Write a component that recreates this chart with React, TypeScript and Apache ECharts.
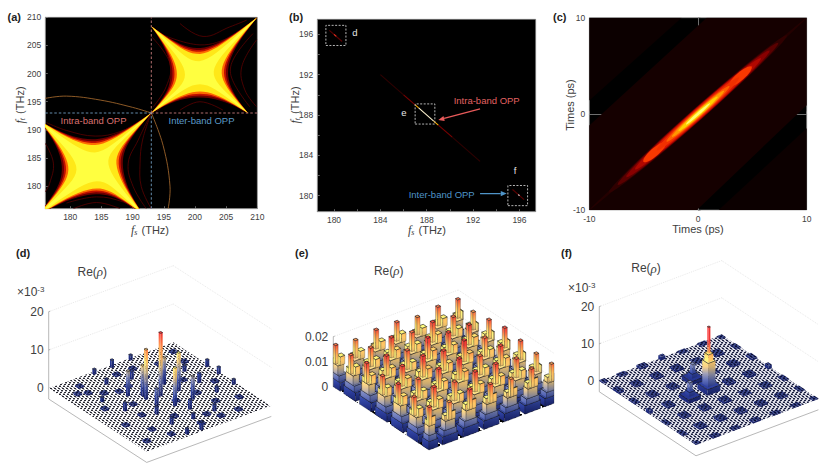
// Six-panel figure: three spectra/time heat maps and three density-matrix surfaces

import { useEffect, useRef } from 'react';
import * as echarts from 'echarts';

const FONT = '"Liberation Sans", Arial, sans-serif';
const INK = '#404040';

// ---- (a) joint spectrum, star tips and side waists read in THz
const A_TICKS = [180, 185, 190, 195, 200, 205, 210];
const lowerTips = [[193, 193], [191.7, 175], [174.5, 174.5], [175, 191.7]];
const lowerWaists = [[187.4, 184.6], [184.2, 179.6], [179.7, 182.9], [184, 187.3]];
const lowerCentre = [183.6, 183.5];
const upperTips = [[193, 193], [193, 208.4], [210, 210], [208.5, 193]];
const upperWaists = [[197.1, 199.9], [200.8, 203.5], [204.3, 200.6], [200.8, 196.8]];
const upperCentre = [200.7, 200.2];
const bandsA: [number, string][] = [[1.05, '#6a0000'], [0.7, '#c01000'], [0.38, '#ff6a00'], [0, '#ffe818'], [-1.3, '#ffff40']];
const fringesA = [
    [[176.2, 191.3], [179.4, 189.9], [184, 188.9], [188, 189.7], [191.2, 191.6], [193, 193]],
    [[193, 193], [190.9, 188.2], [189.3, 184.1], [190.1, 179.9], [192.2, 176]],
    [[193, 193], [191.6, 188.2], [191.2, 184.1], [191.4, 179.9], [193, 176]],
    [[179.4, 177], [184.2, 178.1], [188.5, 177.2], [190.1, 176]],
    [[180.5, 176], [184.2, 177.1], [188, 176]],
    [[176, 187.6], [177.3, 184.1], [176.7, 180.5], [176, 179]],
    [[194.4, 207.1], [200.8, 205.1], [206.1, 206.6], [208.5, 208]],
    [[197.6, 208.9], [201.3, 206.6], [205.6, 208.3], [208.3, 209.5]],
    [[209.3, 207.1], [206.1, 202.4], [205.9, 199.2], [208.8, 194.1]],
    [[209.9, 206], [207.5, 201.2], [208, 197.1], [209.9, 194.1]],
    [[193.8, 193.2], [196.5, 195.3], [200.8, 195.9], [205.6, 194.7], [208, 193.2]],
    [[197.6, 193.5], [200.8, 195], [204.5, 193.5]],
    [[193, 206.6], [196, 201.8], [195.4, 197.7], [193.3, 194.1]],
];
const arcsA = [
    [[176, 195.6], [179.4, 196], [184.8, 195.3], [190, 194], [193, 193]],
    [[193, 193], [194.9, 187.2], [196, 180], [195.7, 176]],
];
const crossA = [193, 193];

// ---- (b) trace along the anti-diagonal, [x0, y0, x1, y1, colour]
const B_TICKS = [180, 184, 188, 192, 196];
const B_MINOR = [180, 182, 184, 186, 188, 190, 192, 194, 196];
const traceB: [number, number, number, number, string][] = [
    [179.6, 196.4, 180.7, 195.3, '#5a0000'],
    [180, 196, 180.2, 195.8, '#e03020'],
    [184, 192, 186, 190, '#2e0000'],
    [186, 190, 187, 189, '#7a0000'],
    [187, 189, 187.3, 188.7, '#ffb000'],
    [187.3, 188.7, 188.6, 187.4, '#fff4d0'],
    [188.6, 187.4, 189, 187, '#ffb000'],
    [189, 187, 190.2, 185.8, '#7a0000'],
    [190.2, 185.8, 192.6, 183.4, '#2e0000'],
    [195.4, 180.6, 196.4, 179.6, '#5a0000'],
    [195.9, 180.1, 196, 180, '#ffffff'],
];
const boxesB = [[179.3, 194.9, 181.03, 196.9], [187, 187.1, 188.7, 189.1], [195, 179, 196.7, 181]];
const arrowsB: [number, number, number, number, string][] = [
    [192.6, 188.6, 189, 187.5, '#e85a5a'],
    [192.6, 180.2, 194.9, 180.2, '#4f94c8'],
];

// ---- (c) correlation in time, lobes on the diagonal: [centre, half length, half width, colour]
const C_TICKS = [-10, 0, 10];
const bandC = [[-10, -1.2], [0.8, 10], [10, 10], [10, 0.9], [-0.1, -10], [-10, -10]];
const cornersC = [[[-10, 1.4], [-1.5, 10], [-10, 10]], [[10, -1.5], [1.9, -10], [10, -10]]];
const lobesC: [number, number, number, string][] = [
    [0, 10, 0.16, '#240000'],
    [0, 8.2, 0.44, '#300000'],
    [0, 7.4, 0.42, '#5a0000'],
    [0, 6.6, 0.4, '#880000'],
    [0, 5.8, 0.38, '#b00800'],
    [0, 5, 0.35, '#d81800'],
    [3.9, 1, 0.28, '#f83800'],
    [-4, 1, 0.28, '#f83800'],
    [0, 3.8, 0.3, '#f03000'],
    [0, 2.9, 0.25, '#ff6000'],
    [0, 2.4, 0.2, '#ff9800'],
    [0, 1.8, 0.16, '#ffd000'],
    [0, 1.1, 0.1, '#ffff70'],
];

// ---- surfaces, heights on the 7 x 7 lattice and the tall peaks [u, v, height]
const LATTICE = [0.01, 0.17, 0.335, 0.5, 0.665, 0.83, 0.99];
const peaksD = [
    [0.514, 0.489, 16.5], [0.413, 0.468, 13], [0.646, 0.505, 10], [0.422, 0.422, 8], [0.347, 0.368, 6.5],
    [0.624, 0.384, 7], [0.509, 0.642, 10], [0.652, 0.641, 6], [0.415, 0.574, 4.5],
    [0.489, 0.024, 2], [0.347, 0.025, 1.3], [0.645, 0.016, 1.3], [0.984, 0.367, 1.8], [0.985, 0.483, 1.8],
    [0.98, 0.643, 1.3], [0.498, 0.214, 2.2], [0.817, 0.498, 2.5], [0.214, 0.507, 2.2], [0.455, 0.98, 2],
    [0.348, 0.97, 1.5], [0.347, 0.814, 1.8], [0.349, 0.658, 2], [0.559, 0.731, 2.5], [0.66, 0.33, 2],
    [0.83, 0.33, 1.6], [0.67, 0.84, 1.8], [0.5, 0.84, 1.4], [0.83, 0.66, 1.5], [0.17, 0.33, 1.2], [0.33, 0.17, 1.4],
];
const spotsD = [
    [0.1, 0.17], [0.17, 0.1], [0.24, 0.26], [0.33, 0.3], [0.45, 0.12], [0.58, 0.12], [0.75, 0.17], [0.9, 0.24],
    [0.75, 0.42], [0.9, 0.55], [0.72, 0.6], [0.6, 0.85], [0.42, 0.75], [0.26, 0.62], [0.12, 0.42], [0.1, 0.66],
    [0.2, 0.8], [0.26, 0.92], [0.5, 0.92], [0.75, 0.75], [0.9, 0.8], [0.66, 0.92], [0.16, 0.2], [0.58, 0.25],
    [0.3, 0.48], [0.42, 0.28], [0.8, 0.92], [0.92, 0.1], [0.08, 0.9], [0.55, 0.6],
];
const heightsE = [
    [0.017, 0.017, 0.018, 0.017, 0.018, 0.017, 0.017],
    [0.016, 0.017, 0.018, 0.018, 0.017, 0.018, 0.016],
    [0.017, 0.018, 0.017, 0.019, 0.018, 0.017, 0.018],
    [0.017, 0.017, 0.019, 0.018, 0.019, 0.018, 0.017],
    [0.016, 0.018, 0.018, 0.019, 0.017, 0.018, 0.016],
    [0.017, 0.017, 0.018, 0.017, 0.018, 0.017, 0.017],
    [0.017, 0.016, 0.017, 0.018, 0.017, 0.016, 0.016],
];
// node shape: [du, dv, radius, z0, z1] as fractions of the node height
const tiersE = [
    [0, 0, 0.062, 0, 0.2], [0, 0, 0.05, 0.2, 0.34], [0, 0, 0.038, 0.34, 0.56],
    [-0.018, -0.018, 0.016, 0.56, 0.68], [0.024, 0.024, 0.018, 0.56, 0.76], [0, 0, 0.012, 0.56, 1],
];
const plateausF = [
    [0.5, 0.9, 0.5, 1.5, 0.3, 0.4, 0.3],
    [0.4, 0.7, 0.7, 0.8, 0.7, 0.8, 0.5],
    [0.9, 0.9, 0.8, 0, 0.8, 0.9, 0.4],
    [1.6, 0.9, 0, 0, 0.9, 0.7, 0.8],
    [0.3, 0.5, 0.5, 0.9, 0.4, 0.6, 0.4],
    [0.5, 0.9, 0.9, 0.9, 0.5, 0.6, 0.4],
    [0.3, 0.4, 0.7, 1.6, 0.4, 0.3, 0.3],
];
const towersF = [
    [0.5, 0.5, 0.052, 0, 1.6], [0.5, 0.5, 0.03, 1.6, 8], [0.5, 0.5, 0.02, 8, 10], [0.5, 0.5, 0.007, 10, 17],
    [0.336, 0.512, 0.05, 0, 1], [0.336, 0.512, 0.022, 1, 2.2], [0.336, 0.512, 0.012, 2.2, 4.5],
    [0.494, 0.34, 0.05, 0, 1], [0.494, 0.34, 0.022, 1, 2.2], [0.494, 0.34, 0.012, 2.2, 4.5],
];
const surfaceStops = ['#141c5a', '#2a3a86', '#6a7298', '#c4a468', '#f8c060', '#f58a45', '#e03030'];

type View = { left: number; width: number; top: number; bottom: number; originY: number; ax: number; ay: number; bx: number; by: number; pxPerZ: number; zTicks: number[]; zBase: number; zTop: number; zColor: number };

const viewD: View = { left: 48.7, width: 228, top: 258, bottom: 468, originY: 388.3, ax: 124.6, ay: -46, bx: 98, by: 63.4, pxPerZ: 3.83, zTicks: [0, 10, 20], zBase: -2.8, zTop: 20, zColor: 15 };
const viewE: View = { left: 333.3, width: 226, top: 258, bottom: 468, originY: 386.7, ax: 125, ay: -46.7, bx: 95.7, by: 63.3, pxPerZ: 2500, zTicks: [0, 0.01, 0.02], zBase: 0, zTop: 0.02, zColor: 0.0175 };
const viewF: View = { left: 599.3, width: 224, top: 250, bottom: 468, originY: 381, ax: 122.4, ay: -46, bx: 96.7, by: 64, pxPerZ: 3.72, zTicks: [0, 10, 20], zBase: -2.9, zTop: 20, zColor: 13 };

const project = (view: View, u: number, v: number, z: number) => [
    view.ax * u + view.bx * v,
    -(view.ay * u + view.by * v) / view.pxPerZ + z,
];

const clamp = (a: number) => Math.min(1, Math.max(0, a));

// Columns [u, v, radius, z0, z1, keyU, keyV], far ones first
const byDepth = (cols: number[][]) => cols.slice().sort((a, b) => (a[6] - a[5]) - (b[6] - b[5]));

const lowD = byDepth(spotsD.map(([u, v]) => [u, v, 0.02, 0, 0.45, u, v]));
const tallD = byDepth(peaksD.map(([u, v, h]) => [u, v, 0.009, 0, h, u, v]));
const tallE = byDepth(
    heightsE.flatMap((row, i) => row.flatMap((h, j) =>
        tiersE.map(([du, dv, r, z0, z1]) => [LATTICE[i] + du, LATTICE[j] + dv, r, z0 * h, z1 * h, LATTICE[i], LATTICE[j]])
    ))
);
const lowF = byDepth(plateausF.flatMap((row, i) => row.flatMap((h, j) => (h > 0 ? [[LATTICE[i], LATTICE[j], h > 1 ? 0.018 : 0.032, 0, h * 0.6, LATTICE[i], LATTICE[j]]] : []))));
const tallF = byDepth(towersF.map(([u, v, r, z0, z1]) => [u, v, r, z0, z1, u, v]));

// The wire mesh is finer than a pixel in the picture, so it shows as a pixel-sized weave
const weave = (map: string[], colors: Record<string, string>, cell: number) => {
    const canvas = document.createElement('canvas');
    canvas.width = map[0].length * cell;
    canvas.height = map.length * cell;
    const ctx = canvas.getContext('2d')!;
    map.forEach((row, y) => row.split('').forEach((ch, x) => {
        ctx.fillStyle = colors[ch];
        ctx.fillRect(x * cell, y * cell, cell, cell);
    }));
    return { image: canvas, repeat: 'repeat', imageWidth: canvas.width, imageHeight: canvas.height };
};

const WEAVE = ['KKWW', 'GWWG', 'KWWK', 'WGGW', 'WWKK', 'GWWG', 'WKKW', 'WGGW'];
const WEAVE_COARSE = ['KKWW', 'WKKW', 'WWKK', 'KWWK'];

const rampFill = (view: View, z0: number, z1: number, dark: number) => {
    const colorStops = [0, 0.25, 0.5, 0.75, 1].map((offset) => {
        const z = z1 + (z0 - z1) * offset;
        const c = echarts.color.lerp(Math.min(1, z / view.zColor), surfaceStops);
        return { offset, color: echarts.color.lift(c, dark) };
    });
    return new echarts.graphic.LinearGradient(0, 0, 0, 1, colorStops);
};

const surfaceSeries = (gridIndex: number, view: View, cols: number[][], edge: string, edgeWidth: number, topFill?: any) => ({
    type: 'custom',
    xAxisIndex: gridIndex,
    yAxisIndex: gridIndex,
    clip: false,
    silent: true,
    data: cols.map((_, i) => [i]),
    renderItem: (params: any, api: any) => {
        const [u, v, r, z0, z1] = cols[params.dataIndex];
        const u0 = clamp(u - r), u1 = clamp(u + r), v0 = clamp(v - r), v1 = clamp(v + r);
        const p = (a: number, b: number, z: number) => api.coord(project(view, a, b, z));
        return {
            type: 'group',
            children: [
                { type: 'polygon', shape: { points: [p(u0, v0, z0), p(u0, v1, z0), p(u0, v1, z1), p(u0, v0, z1)] }, style: { fill: rampFill(view, z0, z1, -0.3), stroke: edge, lineWidth: edgeWidth } },
                { type: 'polygon', shape: { points: [p(u0, v1, z0), p(u1, v1, z0), p(u1, v1, z1), p(u0, v1, z1)] }, style: { fill: rampFill(view, z0, z1, -0.06), stroke: edge, lineWidth: edgeWidth } },
                { type: 'polygon', shape: { points: [p(u0, v0, z1), p(u1, v0, z1), p(u1, v1, z1), p(u0, v1, z1)] }, style: topFill ? { fill: topFill } : { fill: rampFill(view, z1 * 0.9, z1, -0.35), stroke: '#111', lineWidth: 0.6 } },
            ],
        };
    },
});

// Back grid lines, box edges and floor sheet of one surface
const floorSeries = (gridIndex: number, view: View, sheet: any) => ({
    type: 'custom',
    xAxisIndex: gridIndex,
    yAxisIndex: gridIndex,
    clip: false,
    silent: true,
    data: [[0]],
    renderItem: (_: any, api: any) => {
        const p = (a: number, b: number, z: number) => api.coord(project(view, a, b, z));
        const children: any[] = [];
        const line = (q0: number[], q1: number[], stroke: string, lineWidth: number, lineDash?: number[]) =>
            children.push({ type: 'line', shape: { x1: q0[0], y1: q0[1], x2: q1[0], y2: q1[1] }, style: { stroke, lineWidth, lineDash } });
        view.zTicks.slice(1).forEach((z) => {
            line(p(0, 0, z), p(1, 0, z), '#d8d8d8', 0.6, [1, 1]);
            line(p(1, 0, z), p(1, 1, z), '#d8d8d8', 0.6, [1, 1]);
        });
        if (view.zBase < 0) {
            line(p(0, 0, view.zBase), p(0, 1, view.zBase), '#9a9a9a', 0.7);
            line(p(0, 1, view.zBase), p(1, 1, view.zBase), '#9a9a9a', 0.7);
        }
        line(p(0, 0, view.zBase), p(0, 0, view.zTop), '#9a9a9a', 0.7);
        view.zTicks.forEach((z) => line(p(0, 0, z), p(0.012, 0, z), '#9a9a9a', 0.7));
        children.push({ type: 'polygon', shape: { points: [p(0, 0, 0), p(1, 0, 0), p(1, 1, 0), p(0, 1, 0)] }, style: { fill: sheet } });
        return { type: 'group', children };
    },
});

const linesOf = (gridIndex: number, items: any[], build: (item: any, api: any) => any, clip = true) => ({
    type: 'custom',
    xAxisIndex: gridIndex,
    yAxisIndex: gridIndex,
    clip,
    silent: true,
    data: items.map((_, i) => [i]),
    renderItem: (params: any, api: any) => build(items[params.dataIndex], api),
});

const polygonEl = (pts: number[][], api: any, style: any) => ({
    type: 'polygon',
    shape: { points: pts.map((q) => api.coord(q)) },
    style,
});

const cubic = (a: number[], b: number[], c: number[], d: number[], q: number) => {
    const r = 1 - q;
    return [0, 1].map((n) => r * r * r * a[n] + 3 * r * r * q * b[n] + 3 * r * q * q * c[n] + q * q * q * d[n]);
};

// One star outline: each side runs tip, waist (moved out by `outset`), next tip, rounded only at the waist
const starOutline = (tips: number[][], waists: number[][], centre: number[], outset: number) => {
    const pts: number[][] = [];
    tips.forEach((t0, i) => {
        const t1 = tips[(i + 1) % tips.length];
        const mx = (t0[0] + t1[0]) / 2, my = (t0[1] + t1[1]) / 2;
        const span = Math.hypot(centre[0] - mx, centre[1] - my);
        const w = [waists[i][0] - ((centre[0] - mx) / span) * outset, waists[i][1] - ((centre[1] - my) / span) * outset];
        const side = Math.hypot(t1[0] - t0[0], t1[1] - t0[1]);
        const tx = ((t1[0] - t0[0]) / side) * 2, ty = ((t1[1] - t0[1]) / side) * 2;
        const aim = [(w[0] + centre[0]) / 2, (w[1] + centre[1]) / 2];
        const h0 = [t0[0] + (aim[0] - t0[0]) * 0.5, t0[1] + (aim[1] - t0[1]) * 0.5];
        const h1 = [t1[0] + (aim[0] - t1[0]) * 0.5, t1[1] + (aim[1] - t1[1]) * 0.5];
        for (let k = 0; k < 10; k++) pts.push(cubic(t0, h0, [w[0] - tx, w[1] - ty], w, k / 10));
        for (let k = 0; k < 10; k++) pts.push(cubic(w, [w[0] + tx, w[1] + ty], h1, t1, k / 10));
    });
    return pts;
};

const starEl = (tips: number[][], waists: number[][], centre: number[], api: any) => ({
    type: 'group',
    children: bandsA.map(([outset, fill]) => polygonEl(starOutline(tips, waists, centre, outset), api, { fill })),
});

const curveEl = (pts: number[][], api: any, stroke: string, lineWidth: number) => ({
    type: 'polyline',
    shape: { points: pts.map((q) => api.coord(q)), smooth: 0.4 },
    style: { stroke, lineWidth, fill: 'none' },
});

const segEl = (a: number[], b: number[], api: any, stroke: string, lineWidth: number, lineDash?: number[]) => {
    const q0 = api.coord(a);
    const q1 = api.coord(b);
    return { type: 'line', shape: { x1: q0[0], y1: q0[1], x2: q1[0], y2: q1[1] }, style: { stroke, lineWidth, lineDash } };
};

const arrowEl = ([x0, y0, x1, y1, color]: [number, number, number, number, string], api: any) => {
    const a = api.coord([x0, y0]);
    const b = api.coord([x1, y1]);
    const len = Math.hypot(b[0] - a[0], b[1] - a[1]);
    const ux = (b[0] - a[0]) / len, uy = (b[1] - a[1]) / len;
    const neck = [b[0] - ux * 6, b[1] - uy * 6];
    return {
        type: 'group',
        children: [
            { type: 'line', shape: { x1: a[0], y1: a[1], x2: neck[0], y2: neck[1] }, style: { stroke: color, lineWidth: 1.3 } },
            { type: 'polygon', shape: { points: [b, [neck[0] - uy * 2.6, neck[1] + ux * 2.6], [neck[0] + uy * 2.6, neck[1] - ux * 2.6]] }, style: { fill: color } },
        ],
    };
};

const lobeEl = ([centre, len, wid, color]: [number, number, number, string], api: any) => {
    const pts: number[][] = [];
    for (let k = 0; k < 32; k++) {
        const t = (k / 32) * Math.PI * 2;
        const along = len * Math.cos(t);
        const across = wid * Math.sin(t);
        pts.push([centre + along - across, centre + along + across]);
    }
    return polygonEl(pts, api, { fill: color });
};

const heatAxis = (gridIndex: number, min: number, max: number, labels: number[], ticks: number[]) => ({
    type: 'value',
    gridIndex,
    min,
    max,
    splitLine: { show: false },
    axisLine: { lineStyle: { color: '#8c8c8c', width: 0.8 } },
    axisTick: { inside: true, length: 2.5, customValues: ticks, lineStyle: { color: '#8c8c8c', width: 0.7 } },
    axisLabel: { customValues: labels, color: INK, fontSize: 8.5, fontFamily: FONT, margin: 4 },
});

const hiddenX = (gridIndex: number, view: View) => ({
    type: 'value', gridIndex, min: 0, max: view.width, show: false,
});

const zAxis = (gridIndex: number, view: View) => ({
    type: 'value',
    gridIndex,
    min: -(view.bottom - view.originY) / view.pxPerZ,
    max: (view.originY - view.top) / view.pxPerZ,
    splitLine: { show: false },
    axisLine: { show: false },
    axisTick: { show: false },
    axisLabel: { customValues: view.zTicks, color: INK, fontSize: 12, fontFamily: FONT, margin: 5 },
});

const viewGrid = (view: View) => ({ left: view.left, width: view.width, top: view.top, height: view.bottom - view.top });

const label = (x: number, y: number, text: string, style: any, align = 'left', rotation = 0) => ({
    type: 'text',
    x,
    y,
    rotation,
    silent: true,
    style: { text, fontFamily: FONT, fill: INK, align, verticalAlign: 'middle', ...style },
});

const nameRich = {
    i: { fontFamily: '"Liberation Serif", serif', fontStyle: 'italic', fontSize: 12, fill: INK, color: INK },
    s: { fontFamily: '"Liberation Serif", serif', fontStyle: 'italic', fontSize: 8, fill: INK, color: INK, padding: [5, 1, 0, 0] },
    t: { fontFamily: FONT, fontSize: 11, fill: INK, color: INK },
};
const rhoRich = {
    r: { fontFamily: FONT, fontSize: 12, color: INK },
    p: { fontFamily: '"Liberation Serif", serif', fontStyle: 'italic', fontSize: 13, color: INK },
};
const powerRich = {
    r: { fontFamily: FONT, fontSize: 12, color: INK },
    p: { fontFamily: FONT, fontSize: 8, color: INK, padding: [0, 0, 6, 0] },
};

const heatGrid = (left: number, top: number, width: number, height: number) => ({
    left, top, width, height, show: true, backgroundColor: '#000', borderWidth: 0.6, borderColor: '#8c8c8c',
});

export default function App() {
    const chartRef = useRef<HTMLDivElement>(null);

    useEffect(() => {
        if (!chartRef.current) return;
        document.body.style.margin = '0';
        const chart = echarts.init(chartRef.current, null, { renderer: 'svg' });

        const sheetD = weave(WEAVE, { K: '#2a2a32', W: '#ffffff', G: '#a8a8b0' }, 1);
        const sheetE = weave(WEAVE_COARSE, { K: '#000000', W: '#ffffff' }, 2);
        const sheetF = weave(WEAVE, { K: '#1c2040', W: '#e0e0ea', G: '#787c94' }, 1);
        const patch = weave(WEAVE, { K: '#0a0e34', W: '#3a4688', G: '#1c2458' }, 1);

        const option: any = {
            animation: false,
            backgroundColor: '#ffffff',
            grid: [
                heatGrid(45.3, 17.3, 212, 191.4),
                heatGrid(317.3, 19.3, 218.4, 192.4),
                heatGrid(589.3, 17.7, 217.4, 192.3),
                viewGrid(viewD),
                viewGrid(viewE),
                viewGrid(viewF),
            ],
            xAxis: [
                heatAxis(0, 176, 210, A_TICKS, A_TICKS),
                heatAxis(1, 178.56, 197.4, B_TICKS, B_MINOR),
                heatAxis(2, -10, 10, C_TICKS, C_TICKS),
                hiddenX(3, viewD),
                hiddenX(4, viewE),
                hiddenX(5, viewF),
            ],
            yAxis: [
                heatAxis(0, 176, 210, A_TICKS, A_TICKS),
                heatAxis(1, 178.4, 197.5, B_TICKS, B_MINOR),
                heatAxis(2, -10, 10, C_TICKS, C_TICKS),
                zAxis(3, viewD),
                zAxis(4, viewE),
                zAxis(5, viewF),
            ],
            series: [
                // (a)
                linesOf(0, fringesA, (pts, api) => curveEl(pts, api, '#5c0000', 0.8)),
                linesOf(0, [[lowerTips, lowerWaists, lowerCentre], [upperTips, upperWaists, upperCentre]], ([t, w, c], api) => starEl(t, w, c, api)),
                linesOf(0, arcsA, (pts, api) => curveEl(pts, api, '#b07030', 0.8)),
                linesOf(0, [crossA], ([cx, cy], api) => ({
                    type: 'group',
                    children: [
                        segEl([cx, cy], [cx, 210], api, '#e08a8a', 0.8, [2.5, 2]),
                        segEl([cx, 176], [cx, cy], api, '#7fb0d8', 0.8, [2.5, 2]),
                        segEl([cx, cy], [210, cy], api, '#e08a8a', 0.8, [2.5, 2]),
                        segEl([176, cy], [cx, cy], api, '#7fb0d8', 0.8, [2.5, 2]),
                    ],
                })),
                // (b)
                linesOf(1, traceB, ([x0, y0, x1, y1, c], api) => segEl([x0, y0], [x1, y1], api, c, 1.1)),
                linesOf(1, boxesB, ([x0, y0, x1, y1], api) => polygonEl([[x0, y0], [x1, y0], [x1, y1], [x0, y1]], api, { fill: 'none', stroke: '#c8c8c8', lineWidth: 0.9, lineDash: [2, 1.5] })),
                linesOf(1, arrowsB, (a, api) => arrowEl(a, api)),
                // (c)
                linesOf(2, [bandC], (pts, api) => polygonEl(pts, api, { fill: '#150000' })),
                linesOf(2, cornersC, (pts, api) => polygonEl(pts, api, { fill: '#0c0000' })),
                linesOf(2, lobesC, (l, api) => lobeEl(l, api)),
                // (d)
                floorSeries(3, viewD, sheetD),
                surfaceSeries(3, viewD, lowD, 'none', 0, patch),
                surfaceSeries(3, viewD, tallD, 'none', 0),
                // (e)
                floorSeries(4, viewE, sheetE),
                surfaceSeries(4, viewE, tallE, '#161616', 0.25),
                // (f)
                floorSeries(5, viewF, sheetF),
                surfaceSeries(5, viewF, lowF, 'none', 0, patch),
                surfaceSeries(5, viewF, tallF, 'none', 0),
            ],
            graphic: [
                label(7.5, 16.7, '(a)', { fontSize: 11, fontWeight: 'bold', fill: '#222' }),
                label(289, 16.7, '(b)', { fontSize: 11, fontWeight: 'bold', fill: '#222' }),
                label(553, 16.7, '(c)', { fontSize: 11, fontWeight: 'bold', fill: '#222' }),
                label(16, 253, '(d)', { fontSize: 11, fontWeight: 'bold', fill: '#222' }),
                label(295, 253, '(e)', { fontSize: 11, fontWeight: 'bold', fill: '#222' }),
                label(561, 253, '(f)', { fontSize: 11, fontWeight: 'bold', fill: '#222' }),
                label(150, 230, '{i|f}{s|s}{t| (THz)}', { rich: nameRich }, 'center'),
                label(427, 230, '{i|f}{s|s}{t| (THz)}', { rich: nameRich }, 'center'),
                label(698, 229, '{t|Times (ps)}', { rich: nameRich }, 'center'),
                label(20, 105, '{i|f}{s|t}{t| (THz)}', { rich: nameRich }, 'center', Math.PI / 2),
                label(295, 105, '{i|f}{s|t}{t| (THz)}', { rich: nameRich }, 'center', Math.PI / 2),
                label(570, 105, '{t|Times (ps)}', { rich: nameRich }, 'center', Math.PI / 2),
                label(93.5, 120.5, 'Intra-band OPP', { fontSize: 9.5, fill: '#d9706f' }, 'center'),
                label(201.5, 120.5, 'Inter-band OPP', { fontSize: 9.5, fill: '#5b9ac8' }, 'center'),
                label(486.7, 100.7, 'Intra-band OPP', { fontSize: 9.5, fill: '#e06060' }, 'center'),
                label(441.7, 194, 'Inter-band OPP', { fontSize: 9.5, fill: '#4f94c8' }, 'center'),
                label(355, 32.5, 'd', { fontSize: 9.5, fill: '#e8e8e8' }, 'center'),
                label(404, 112, 'e', { fontSize: 9.5, fill: '#e8e8e8' }, 'center'),
                label(515, 170, 'f', { fontSize: 9.5, fill: '#e8e8e8' }, 'center'),
                label(92.3, 271.7, '{r|Re(}{p|ρ}{r|)}', { rich: rhoRich }, 'center'),
                label(388.7, 270.7, '{r|Re(}{p|ρ}{r|)}', { rich: rhoRich }, 'center'),
                label(646, 268.3, '{r|Re(}{p|ρ}{r|)}', { rich: rhoRich }, 'center'),
                label(17, 292, '{r|×10}{p|-3}', { rich: powerRich }),
                label(568, 288, '{r|×10}{p|-3}', { rich: powerRich }),
            ],
        };

        chart.setOption(option);

        return () => {
            chart.dispose();
        };
    }, []);

    return <div ref={chartRef} style={{ width: 830, height: 476 }} />;
}
